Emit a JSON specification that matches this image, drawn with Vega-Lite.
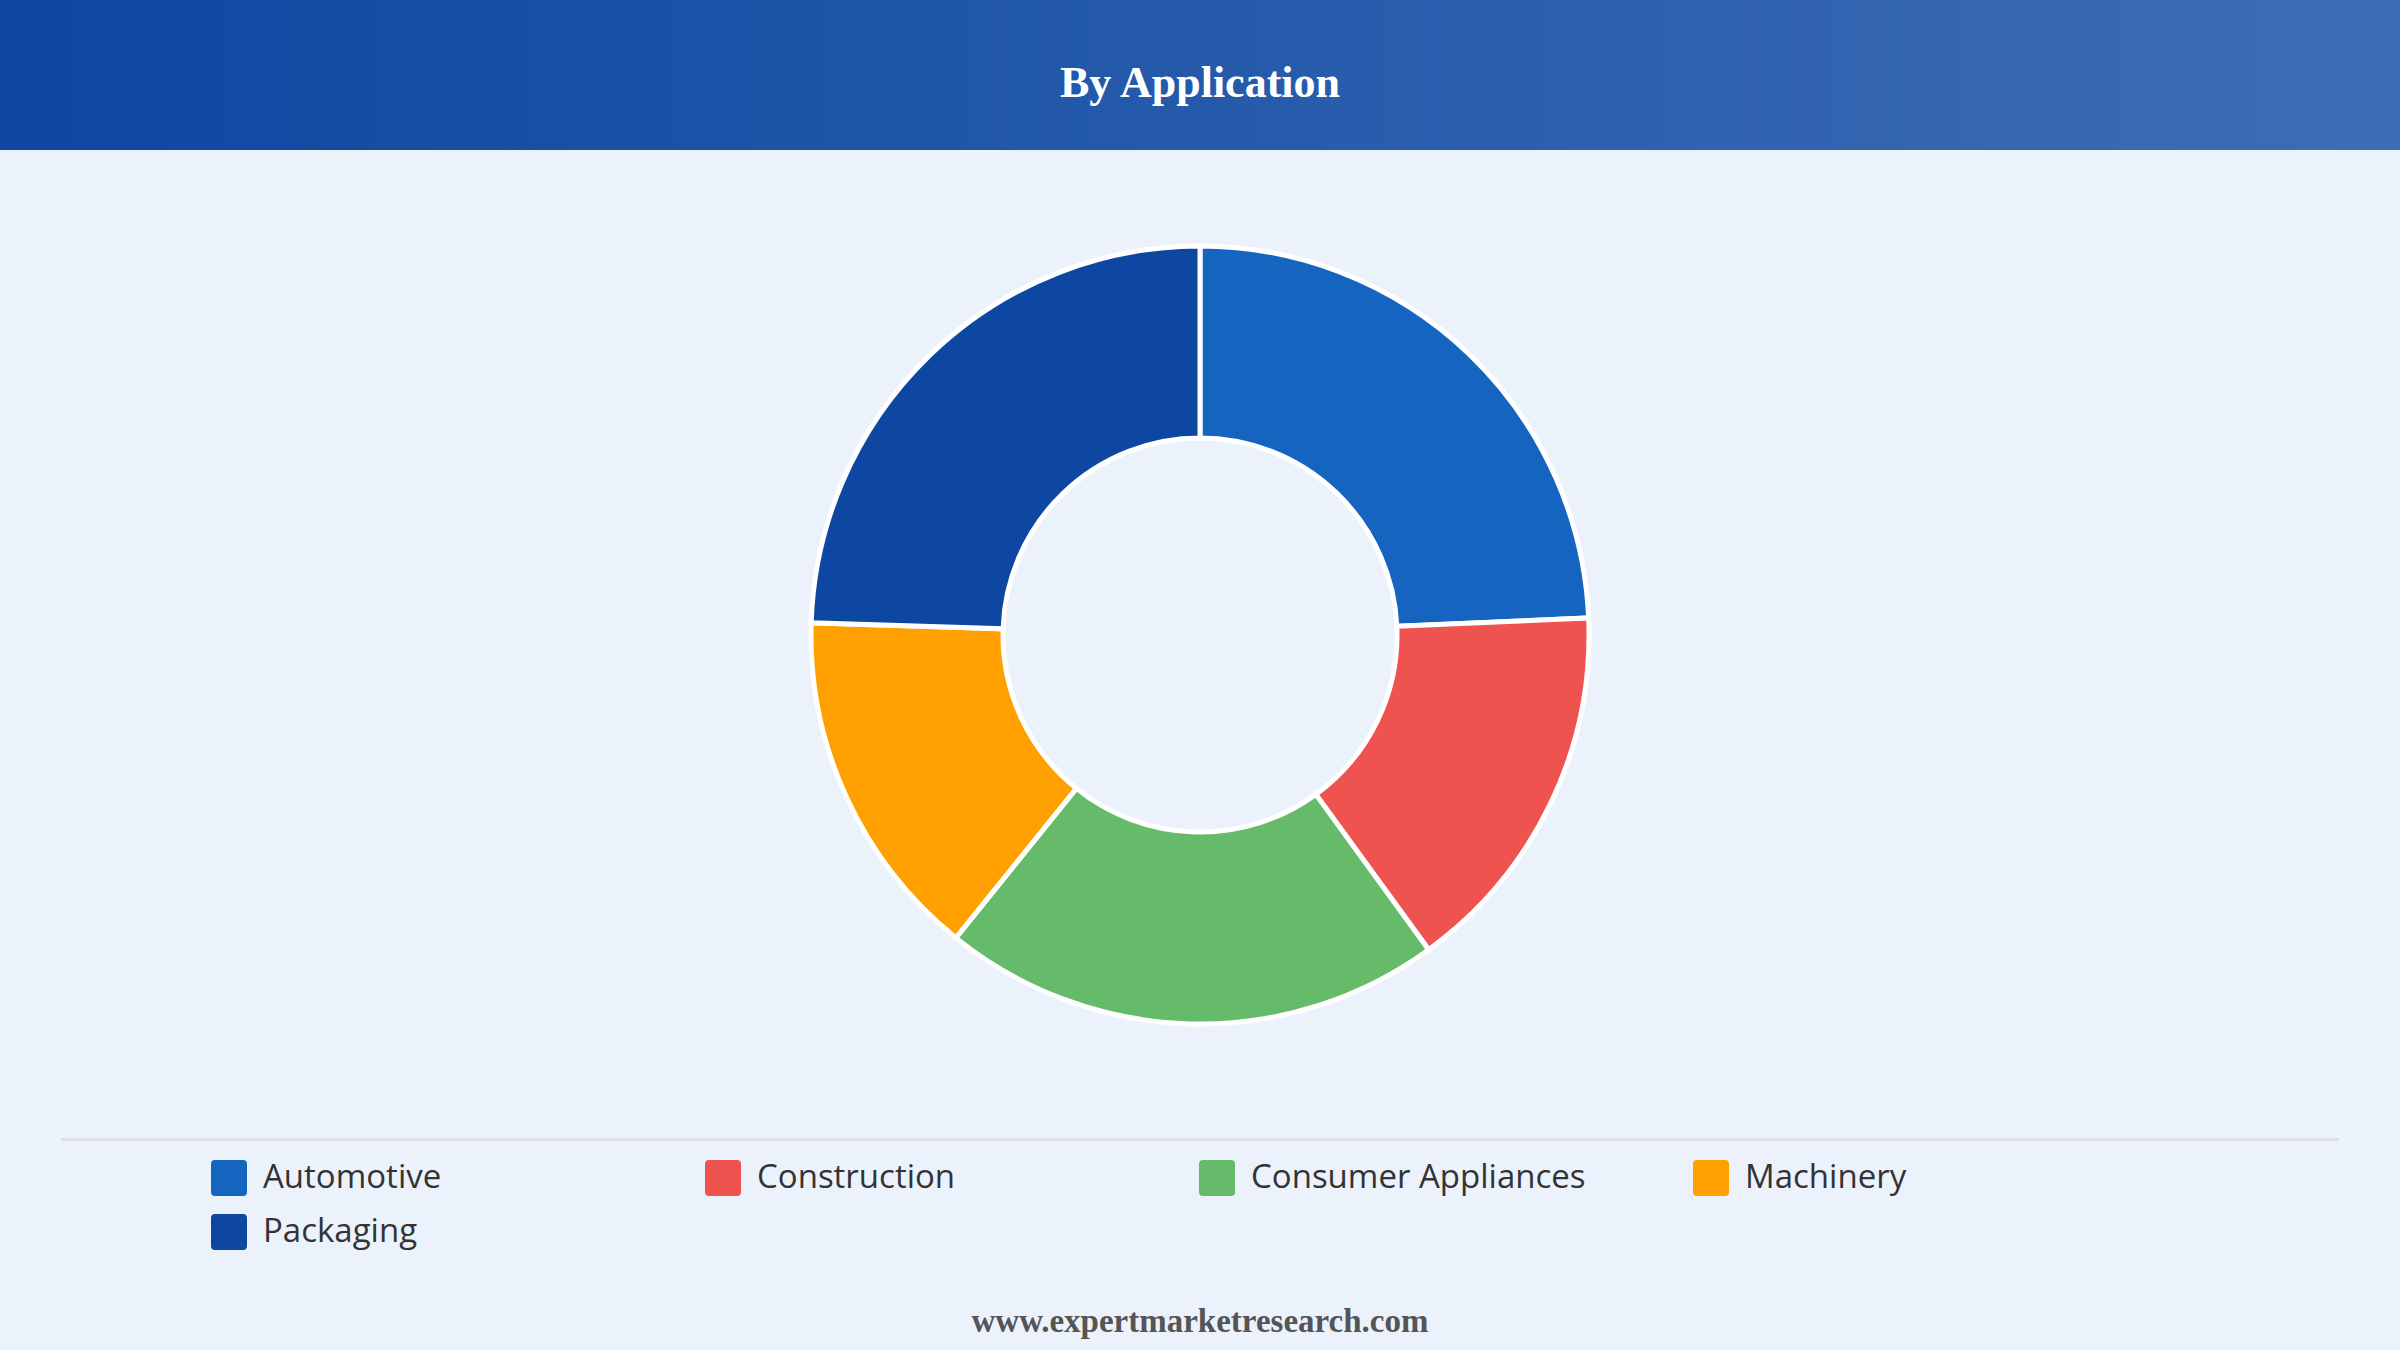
{
  "$schema": "https://vega.github.io/schema/vega-lite/v6.json",
  "width": 2400,
  "height": 1350,
  "padding": 0,
  "autosize": {"type": "none"},
  "background": "#EBF2FC",
  "config": {
    "view": {"stroke": null},
    "legend": {
      "orient": "none",
      "legendX": 211,
      "legendY": 1160,
      "columns": 4,
      "direction": "horizontal",
      "gridAlign": "all",
      "padding": 0,
      "columnPadding": 107,
      "rowPadding": 18,
      "labelFont": "Open Sans",
      "labelFontSize": 33,
      "labelColor": "#333333",
      "labelOffset": 16,
      "labelLimit": 600,
      "symbolType": "M-0.78,-1 H0.78 Q1,-1 1,-0.78 V0.78 Q1,1 0.78,1 H-0.78 Q-1,1 -1,0.78 V-0.78 Q-1,-1 -0.78,-1 Z",
      "symbolSize": 1296,
      "symbolStrokeWidth": 0,
      "symbolOpacity": 1
    }
  },
  "layer": [
    {
      "data": {"values": [{}]},
      "mark": {
        "type": "rect",
        "x": 0, "x2": 2400, "y": 0, "y2": 150,
        "fill": {"gradient": "linear", "x1": 0, "x2": 1, "y1": 0, "y2": 0,
          "stops": [{"offset": 0, "color": "#0D47A1"}, {"offset": 1, "color": "#3D6DB5"}]}
      },
      "encoding": {}
    },
    {
      "data": {"values": [{}]},
      "mark": {
        "type": "text", "text": "By Application", "x": 1200, "y": 97,
        "align": "center", "baseline": "alphabetic",
        "font": "Liberation Serif", "fontWeight": "bold", "fontSize": 44, "color": "#FFFFFF"
      },
      "encoding": {}
    },
    {
      "data": {"values": [
        {"application": "Automotive", "share": 24.3},
        {"application": "Construction", "share": 15.7},
        {"application": "Consumer Appliances", "share": 20.8},
        {"application": "Machinery", "share": 14.7},
        {"application": "Packaging", "share": 24.5}
      ]},
      "mark": {
        "type": "arc", "x": 1200, "y": 635,
        "outerRadius": 389, "innerRadius": 197,
        "stroke": "#FFFFFF", "strokeWidth": 5
      },
      "encoding": {
        "theta": {"field": "share", "type": "quantitative", "stack": true},
        "order": {"field": "application", "sort": "ascending"},
        "color": {
          "field": "application", "type": "nominal", "title": null,
          "scale": {
            "domain": ["Automotive", "Construction", "Consumer Appliances", "Machinery", "Packaging"],
            "range": ["#1565C0", "#EF5350", "#66BB6A", "#FFA000", "#0D47A1"]
          }
        }
      }
    },
    {
      "data": {"values": [{}]},
      "mark": {"type": "rect", "x": 61, "x2": 2339, "y": 1138, "y2": 1141, "fill": "#DCDFE4"},
      "encoding": {}
    },
    {
      "data": {"values": [{}]},
      "mark": {
        "type": "text", "text": "www.expertmarketresearch.com", "x": 1200, "y": 1332,
        "align": "center", "baseline": "alphabetic",
        "font": "Liberation Serif", "fontWeight": "bold", "fontSize": 33, "color": "#555555"
      },
      "encoding": {}
    }
  ]
}
